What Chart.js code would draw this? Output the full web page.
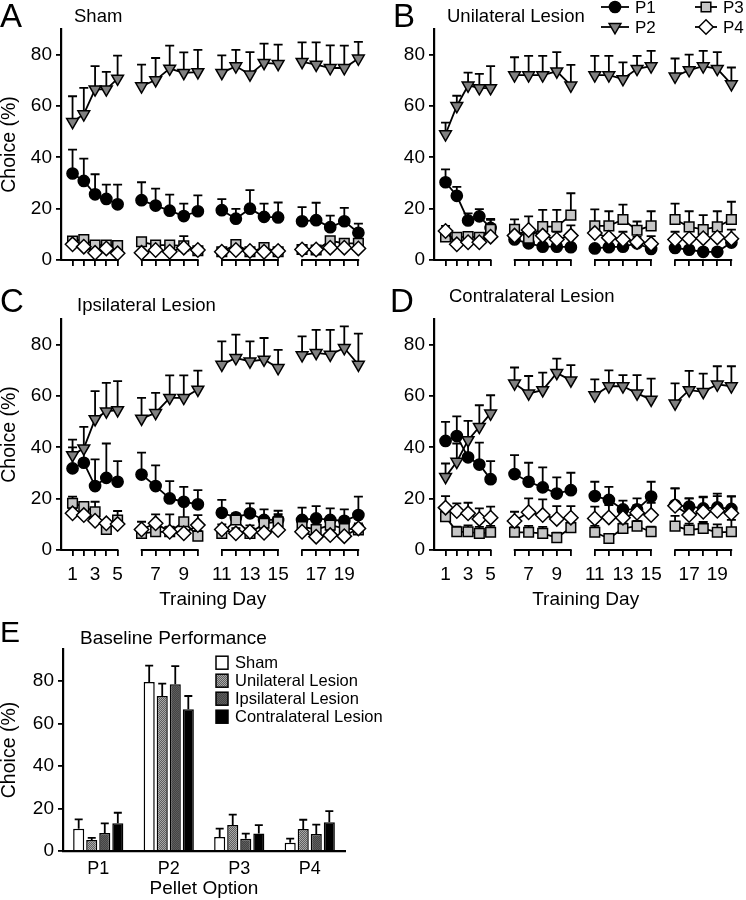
<!DOCTYPE html>
<html>
<head>
<meta charset="utf-8">
<script src="https://cdn.jsdelivr.net/npm/chart.js@4.4.1/dist/chart.umd.min.js"></script>
<style>
  body { margin: 0; background: #fff; }
  #fig { position: relative; width: 746px; height: 900px; overflow: hidden; font-family: "Liberation Sans", Arial, sans-serif; color: #000; }
  #fig canvas { position: absolute; }
  .lbl { position: absolute; line-height: 1; white-space: nowrap; }
  .big { font-size: 33px; }
  .ttl { font-size: 18.5px; }
</style>
</head>
<body>
<div id="fig">
  <canvas id="cA" width="373" height="280" style="left:0;top:0"></canvas>
  <canvas id="cB" width="373" height="280" style="left:373px;top:0"></canvas>
  <canvas id="cC" width="373" height="330" style="left:0;top:280px"></canvas>
  <canvas id="cD" width="373" height="330" style="left:373px;top:280px"></canvas>
  <canvas id="cE" width="420" height="290" style="left:0;top:610px"></canvas>

  <div class="lbl big" style="left:0;top:-1px">A</div>
  <div class="lbl ttl" style="left:74px;top:7px">Sham</div>
  <div class="lbl big" style="left:393px;top:-1px">B</div>
  <div class="lbl ttl" style="left:447px;top:7px">Unilateral Lesion</div>
  <div class="lbl big" style="left:0;top:284px">C</div>
  <div class="lbl ttl" style="left:77px;top:296px">Ipsilateral Lesion</div>
  <div class="lbl big" style="left:390px;top:284px">D</div>
  <div class="lbl ttl" style="left:449px;top:287px">Contralateral Lesion</div>
  <div class="lbl" style="left:0;top:617px;font-size:30px">E</div>
  <div class="lbl" style="left:80px;top:628px;font-size:19px">Baseline Performance</div>
</div>
<script>
// ---------- Data ----------
const days = [1, 2, 3, 4, 5, 6, 7, 8, 9, 10, 11, 12, 13, 14, 15, 16, 17, 18, 19, 20]

// Sham
const shamP1 = [33.7, 30.8, 25.6, 23.8, 21.7, 23.3, 21.2, 19.2, 17.1, 19.0, 19.4, 16.1, 20.0, 16.8, 16.6, 15.1, 15.5, 12.8, 15.1, 10.6]
const shamP1Err = [9.3, 8.7, 7.8, 5.6, 7.7, 7.0, 6.6, 6.3, 4.9, 6.2, 4.3, 3.8, 7.2, 5.2, 5.8, 5.5, 6.8, 4.5, 5.2, 3.6]
const shamP2 = [53.8, 56.8, 66.5, 66.5, 70.7, 67.7, 70.1, 74.6, 72.9, 73.2, 72.9, 75.5, 72.3, 76.8, 76.4, 77.2, 76.1, 74.8, 74.8, 78.5]
const shamP2Err = [10, 10.3, 9, 6.8, 8.9, 8.4, 8.6, 8.9, 8, 8.7, 6.8, 6.4, 8.7, 7.5, 7.5, 7.6, 8.7, 8.8, 8.7, 6.5]
const shamP3 = [7.4, 8, 5.8, 5.8, 5.6, 7.1, 5.8, 5.8, 5.5, 3.6, 3.2, 6, 3.2, 4.8, 3.2, 4.1, 3.9, 7.5, 6.5, 6.5]
const shamP3Err = [1.2, 0.8, 0.5, 0.8, 0.8, 1, 0.5, 0.5, 1, 1.5, 1, 1.2, 1, 0.5, 1, 1, 1, 1.5, 1.5, 1]
const shamP4 = [6.1, 5.2, 2.8, 4.5, 2.6, 2.8, 3.9, 3.2, 4.8, 3.9, 3.2, 3.9, 3.5, 3.2, 3.5, 4.1, 4.1, 4.8, 4.8, 4.5]
const shamP4Err = [1.5, 1.5, 1, 1, 1, 1, 1, 1, 4.5, 1, 1, 1, 1, 1, 1, 1, 1, 2.5, 2.5, 2]

// Unilateral lesion
const uniP1 = [30.3, 25, 15.4, 17, 12.5, 8, 6.5, 5.2, 5.2, 5, 4.5, 5, 5.2, 6.5, 4.3, 4.7, 4, 3.2, 3.2, 6.8]
const uniP1Err = [5, 3.5, 2.8, 2.8, 3.5, 1, 1, 1, 1, 1, 1, 1, 1, 1, 1, 1, 1, 1, 1, 1]
const uniP2 = [49, 60, 68, 67, 67, 72, 72, 72, 73.5, 68, 72, 72, 70.5, 74.5, 75.5, 71.5, 74, 75.5, 74.5, 68.5]
const uniP2Err = [4.5, 4, 5, 5.5, 8.5, 7, 7.5, 7.5, 7.5, 8, 7.5, 7.5, 6.5, 5, 6, 7, 6, 6, 6.5, 6.5]
const uniP3 = [9, 8.8, 9.1, 8.8, 12, 12, 8.5, 13, 13, 17.5, 13.3, 13.3, 15.8, 11.6, 13.3, 15.8, 12.9, 11.9, 12.9, 15.8]
const uniP3Err = [1.5, 1.2, 1.7, 1.7, 3.6, 3.8, 4, 6.5, 6.5, 8.5, 6.4, 5.7, 5.8, 3.4, 5.7, 6.2, 6.1, 5.6, 6.1, 6.9]
const uniP4 = [11.3, 6.1, 6.9, 6.9, 9.1, 9.5, 11.7, 9.5, 8, 9.5, 10.5, 8.7, 8, 7, 6.3, 8, 8.3, 8.5, 8.8, 8.3]
const uniP4Err = [2, 2.5, 2, 2, 2.5, 2.5, 5.3, 3, 3, 4, 3, 3, 3, 2, 3, 3, 3, 3, 3, 3.5]

// Ipsilateral lesion
const ipsiP1 = [31.8, 34, 24.9, 28.1, 26.6, 29.4, 24.9, 20.1, 18.8, 17.8, 14.5, 12.7, 14.3, 11.7, 11.7, 11.7, 12.3, 11.7, 11.4, 13.6]
const ipsiP1Err = [8.2, 6, 10.4, 13.4, 8, 8.5, 8.1, 6.7, 5.8, 5.5, 5, 1.6, 3.9, 4.1, 3.6, 4.8, 4.8, 4.5, 4.4, 7.2]
const ipsiP2 = [37, 39.6, 51, 54, 54.5, 51.2, 53.4, 59.3, 59.3, 62.5, 72.2, 74.8, 73.5, 74.2, 70.9, 75.9, 76.8, 76.1, 78.7, 72.2]
const ipsiP2Err = [6, 8.4, 10.9, 11.1, 11.3, 8.1, 7.8, 8.7, 8.7, 7.4, 9.1, 9.1, 7.8, 8.4, 7.1, 7.3, 9, 9.7, 8.4, 12.1]
const ipsiP3 = [18.2, 16.9, 14.9, 8, 11.7, 6.5, 7.1, 7.1, 11, 5.4, 6.5, 11.7, 6.5, 10.4, 11, 9.1, 8, 9.7, 8.4, 7.8]
const ipsiP3Err = [2.6, 1.5, 3.9, 2, 3.5, 2, 2, 2, 6.5, 2, 1.5, 2, 2, 2, 3, 2, 2, 2, 2, 2]
const ipsiP4 = [14.3, 13.6, 11.4, 10.4, 10.1, 8, 10.4, 7.1, 6.5, 9.7, 8, 6.5, 7.1, 6.7, 7.8, 7.1, 5.2, 5.8, 5.4, 8.4]
const ipsiP4Err = [2, 2, 3, 1, 1.5, 3, 3.5, 6.8, 4, 3.9, 2, 2, 2.5, 2, 2, 2, 2, 2, 2, 2]

// Contralateral lesion
const contraP1 = [42.5, 44.4, 36.1, 33.3, 27.6, 29.6, 26.6, 24.4, 22, 23.3, 21, 19.5, 15.8, 15.8, 20.8, 17.5, 16.9, 16.2, 16.6, 16]
const contraP1Err = [7.4, 7.7, 8, 8.5, 7, 7.4, 7.4, 7.8, 6.3, 6.8, 5.6, 5.1, 3.4, 4.3, 5.8, 6.5, 3.2, 4.6, 4.4, 5]
const contraP2 = [28.5, 34.4, 42.8, 48, 53.2, 64.9, 61, 62.3, 69, 66.1, 60.3, 63.8, 63.8, 61, 58.6, 57.1, 62.3, 61.6, 64.5, 63.8]
const contraP2Err = [5.2, 7.1, 7.5, 8.4, 7.1, 6.2, 6.8, 6.8, 5.6, 5.9, 6.2, 6.2, 4.3, 7.1, 8.2, 7.8, 7.5, 7.1, 7.1, 7.8]
const contraP3 = [13, 7.1, 7.1, 6.5, 6.9, 6.9, 6.9, 6.5, 4.8, 8.7, 6.9, 4.5, 8.4, 9.3, 7.1, 9.3, 7.8, 8.4, 6.9, 7.1]
const contraP3Err = [2, 2, 2.5, 2.5, 2.5, 2, 2.5, 2.5, 2, 2, 2.5, 1.7, 2, 2, 2, 4, 2.5, 2.5, 3.1, 4.6]
const contraP4 = [16.5, 15.2, 14.3, 12.1, 12.6, 11.3, 14.7, 13.6, 12.1, 12.6, 12.3, 12.7, 12.6, 14.5, 13.6, 17.2, 13.6, 14.9, 15.3, 14.3]
const contraP4Err = [4.5, 3, 4.1, 4.1, 4.3, 3.6, 5.4, 6.1, 5, 4.5, 4.6, 4.8, 3.9, 3, 4.8, 6.8, 6.5, 5.6, 6.7, 6.5]

// Baseline performance (panel E)
const pelletOptions = ['P1', 'P2', 'P3', 'P4']
const groupNames = ['Sham', 'Unilateral Lesion', 'Ipsilateral Lesion', 'Contralateral Lesion']
const baseSham = [10.5, 79.5, 6.6, 3.9]
const baseShamErr = [4.4, 7.7, 3.9, 1.9]
const baseUni = [5.2, 72.9, 12.2, 10.4]
const baseUniErr = [1, 5.8, 4.9, 4.3]
const baseIpsi = [8.5, 78.4, 5.8, 8]
const baseIpsiErr = [4.5, 8.5, 2.4, 4.4]
const baseContra = [13, 66.7, 8.2, 13.5]
const baseContraErr = [5, 6.2, 4, 5.3]


Chart.defaults.font.family = '"Liberation Sans", Arial, sans-serif'
Chart.defaults.color = '#000'

// ---------- helpers ----------

// days come in blocks of 5; the first block is drawn a bit narrower
function blockOf(i) { return Math.floor(i / 5) }
function dayPos(d) {
  let b = blockOf(d - 1), j = (d - 1) % 5
  if (b === 0) return 0.8 * j
  return 4.9 + 5.7 * (b - 1) + j
}

const seriesStyle = {
  P1: { pointStyle: 'circle', radius: 5.6, fill: '#000', rotation: 0, order: 4 },
  P2: { pointStyle: 'triangle', radius: 6.8, fill: '#808080', rotation: 180, order: 3 },
  P3: { pointStyle: 'rect', radius: 6.8, fill: '#c6c6c6', rotation: 0, order: 2 },
  P4: { pointStyle: 'rectRot', radius: 7.2, fill: '#fff', rotation: 0, order: 1 }
}

function lineDataset(label, vals, errs) {
  let st = seriesStyle[label]
  return {
    label: label,
    order: st.order,
    data: days.map((d, i) => ({ x: dayPos(d), y: vals[i] })),
    err: errs,
    borderColor: '#000',
    borderWidth: 1.8,
    pointStyle: st.pointStyle,
    pointRadius: st.radius,
    pointRotation: st.rotation,
    pointBackgroundColor: st.fill,
    pointBorderColor: '#000',
    pointBorderWidth: 1.5,
    clip: false,
    segment: {
      borderColor: ctx => blockOf(ctx.p0DataIndex) === blockOf(ctx.p1DataIndex) ? '#000' : 'rgba(0,0,0,0)'
    }
  }
}

// ------ upward-only error bars (stem + cap) ------
const errorBars = {
  id: 'errorBars',
  beforeDatasetsDraw(chart) {
    const ctx = chart.ctx
    const yScale = chart.scales.y
    const half = chart.config.type === 'bar' ? 4 : 4.5
    ctx.save()
    ctx.strokeStyle = '#000'
    ctx.lineWidth = 1.8
    chart.data.datasets.forEach((ds, i) => {
      if (!ds.err) return
      chart.getDatasetMeta(i).data.forEach((el, j) => {
        let v = typeof ds.data[j] === 'object' ? ds.data[j].y : ds.data[j]
        let top = yScale.getPixelForValue(v + ds.err[j])
        ctx.beginPath()
        ctx.moveTo(el.x, el.y)
        ctx.lineTo(el.x, top)
        ctx.moveTo(el.x - half, top)
        ctx.lineTo(el.x + half, top)
        ctx.stroke()
      })
    })
    ctx.restore()
  }
}

// ------ x axis drawn as one segment per block of days ------
const brokenAxis = {
  id: 'brokenAxis',
  afterDraw(chart) {
    const ctx = chart.ctx
    const x = chart.scales.x
    const yb = chart.chartArea.bottom
    ctx.save()
    ctx.strokeStyle = '#000'
    ctx.lineWidth = 2.2
    for (let b = 0; b < days.length / 5; b++) {
      let x0 = b === 0 ? chart.chartArea.left : x.getPixelForValue(dayPos(days[b * 5]))
      let x1 = x.getPixelForValue(dayPos(days[b * 5 + 4]))
      ctx.beginPath()
      ctx.moveTo(x0 - 0.8, yb)
      ctx.lineTo(x1 + 0.8, yb)
      ctx.stroke()
    }
    ctx.restore()
  }
}

// ------ legend of panel B, 2 x 2 in the top right corner ------
const legendB = {
  id: 'legendB',
  afterDraw(chart) {
    const ctx = chart.ctx
    const spots = { P1: [242, 7], P2: [242, 27], P3: [333, 7], P4: [333, 27] }
    chart.data.datasets.forEach(ds => {
      let [x, y] = spots[ds.label]
      let w = ds.label === 'P1' || ds.label === 'P2' ? 14 : 11
      ctx.save()
      ctx.strokeStyle = '#000'
      ctx.lineWidth = 1.8
      ctx.beginPath()
      ctx.moveTo(x - w, y)
      ctx.lineTo(x + w, y)
      ctx.stroke()
      ctx.fillStyle = ds.pointBackgroundColor
      ctx.lineWidth = ds.pointBorderWidth
      Chart.helpers.drawPoint(ctx, { pointStyle: ds.pointStyle, radius: ds.pointRadius, rotation: ds.pointRotation, borderWidth: ds.pointBorderWidth }, x, y)
      ctx.fillStyle = '#000'
      ctx.font = '17px "Liberation Sans", Arial, sans-serif'
      ctx.textBaseline = 'middle'
      ctx.textAlign = 'left'
      ctx.fillText(ds.label, x + w + 6, y + 1)
      ctx.restore()
    })
  }
}

function linePanel(id, sets, withTitle, withDays) {
  let extra = [errorBars, brokenAxis]
  if (id === 'cB') extra.push(legendB)
  let canvas = document.getElementById(id)
  let top = withDays ? 39 : 29
  let xh = canvas.height - top - 231
  return new Chart(canvas, {
    type: 'line',
    data: { datasets: [
      lineDataset('P1', sets[0], sets[1]),
      lineDataset('P2', sets[2], sets[3]),
      lineDataset('P3', sets[4], sets[5]),
      lineDataset('P4', sets[6], sets[7])
    ]},
    options: {
      responsive: false,
      animation: false,
      layout: { padding: { top: top, right: 5, left: 0, bottom: 0 } },
      plugins: { legend: { display: false }, tooltip: { enabled: false } },
      scales: {
        x: {
          type: 'linear',
          min: -0.82,
          max: 20.72,
          afterBuildTicks: s => { s.ticks = days.map(d => ({ value: dayPos(d) })) },
          ticks: {
            display: withDays,
            autoSkip: false,
            maxRotation: 0,
            font: { size: 19 },
            padding: 7,
            callback: (v, i) => days[i] % 2 ? String(days[i]) : ''
          },
          grid: { drawOnChartArea: false, tickLength: 6, color: '#000', lineWidth: 1.8 },
          border: { display: false },
          title: { display: withDays, text: 'Training Day', font: { size: 19, lineHeight: 1 }, padding: { top: 0, bottom: 1 } },
          afterFit: s => { s.height = xh }
        },
        y: {
          min: 0,
          max: 90,
          ticks: { stepSize: 10, font: { size: 19 }, padding: 4, callback: v => v % 20 === 0 ? v : '' },
          grid: { drawOnChartArea: false, tickLength: 5, color: '#000', lineWidth: 1.8 },
          border: { color: '#000', width: 2.2 },
          title: { display: withTitle, text: 'Choice (%)', font: { size: 19.5, lineHeight: 1 }, padding: 0 },
          afterFit: s => { s.width = 61 }
        }
      }
    },
    plugins: extra
  })
}

linePanel('cA', [shamP1, shamP1Err, shamP2, shamP2Err, shamP3, shamP3Err, shamP4, shamP4Err], true, false)
linePanel('cB', [uniP1, uniP1Err, uniP2, uniP2Err, uniP3, uniP3Err, uniP4, uniP4Err], false, false)
linePanel('cC', [ipsiP1, ipsiP1Err, ipsiP2, ipsiP2Err, ipsiP3, ipsiP3Err, ipsiP4, ipsiP4Err], true, true)
linePanel('cD', [contraP1, contraP1Err, contraP2, contraP2Err, contraP3, contraP3Err, contraP4, contraP4Err], false, true)


// -------------- Panel E : baseline bars --------------
function texture(a, b) {
  let c = document.createElement('canvas')
  c.width = 2; c.height = 2
  let g = c.getContext('2d')
  g.fillStyle = a; g.fillRect(0, 0, 2, 2)
  g.fillStyle = b; g.fillRect(0, 0, 1, 1); g.fillRect(1, 1, 1, 1)
  return g.createPattern(c, 'repeat')
}
const barFills = ['#ffffff', texture('#5e5e5e', '#a8a8a8'), texture('#444444', '#5e5e5e'), '#000000']

const legendE = {
  id: 'legendE',
  afterDraw(chart) {
    const ctx = chart.ctx
    chart.data.datasets.forEach((ds, i) => {
      let y = 52.7 + i * 18
      ctx.save()
      ctx.fillStyle = ds.backgroundColor
      ctx.fillRect(216, y - 6.5, 12, 13)
      ctx.strokeStyle = '#000'
      ctx.lineWidth = 1.5
      ctx.strokeRect(216, y - 6.5, 12, 13)
      ctx.fillStyle = '#000'
      ctx.font = '16.5px "Liberation Sans", Arial, sans-serif'
      ctx.textBaseline = 'middle'
      ctx.fillText(ds.label, 235, y + 1)
      ctx.restore()
    })
  }
}

new Chart(document.getElementById('cE'), {
  type: 'bar',
  data: {
    labels: pelletOptions,
    datasets: [
      { label: groupNames[0], data: baseSham, err: baseShamErr, backgroundColor: barFills[0] },
      { label: groupNames[1], data: baseUni, err: baseUniErr, backgroundColor: barFills[1] },
      { label: groupNames[2], data: baseIpsi, err: baseIpsiErr, backgroundColor: barFills[2] },
      { label: groupNames[3], data: baseContra, err: baseContraErr, backgroundColor: barFills[3] }
    ]
  },
  options: {
    responsive: false,
    animation: false,
    layout: { padding: { top: 39, right: 75, left: 0, bottom: 0 } },
    datasets: { bar: { categoryPercentage: 0.74, barPercentage: 0.85, borderColor: '#000', borderWidth: 1.5 } },
    plugins: { legend: { display: false }, tooltip: { enabled: false } },
    scales: {
      x: {
        grid: { display: false, drawTicks: false },
        border: { color: '#000', width: 2.2 },
        ticks: { font: { size: 18 }, padding: 7 },
        title: { display: true, text: 'Pellet Option', font: { size: 19, lineHeight: 1 }, padding: { top: 0, bottom: 2 } },
        afterFit: s => { s.height = 49 }
      },
      y: {
        min: 0,
        max: 95,
        afterBuildTicks: s => { s.ticks = s.ticks.filter(t => t.value % 10 === 0) },
        ticks: { stepSize: 10, font: { size: 19 }, padding: 4, callback: v => v % 20 === 0 ? v : '' },
        grid: { drawOnChartArea: false, tickLength: 5, color: '#000', lineWidth: 1.8 },
        border: { color: '#000', width: 2.2 },
        title: { display: true, text: 'Choice (%)', font: { size: 19.5, lineHeight: 1 }, padding: 0 },
        afterFit: s => { s.width = 63 }
      }
    }
  },
  plugins: [errorBars, legendE]
})
</script>
</body>
</html>
